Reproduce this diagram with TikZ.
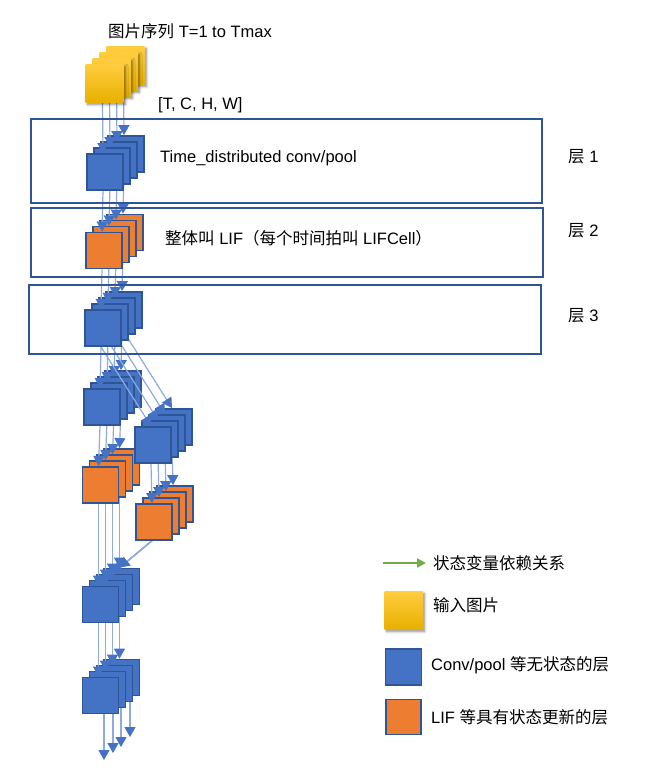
\documentclass[tikz,border=0pt]{standalone}
\usepackage{fontspec}
\setmainfont{Liberation Sans}
\newfontfamily\cjk{Noto Sans CJK SC}
\usetikzlibrary{arrows.meta,shadows.blur}
\definecolor{bfill}{HTML}{4472C4}
\definecolor{bdraw}{HTML}{2F5597}
\definecolor{ofill}{HTML}{ED7D31}
\definecolor{lineblue}{HTML}{8FAADC}
\definecolor{gline}{HTML}{70AD47}
\definecolor{ytop}{HTML}{FFCD40}
\definecolor{ybot}{HTML}{E8B000}
\tikzset{
 ghost/.style={minimum size=36pt, inner sep=0pt, line width=1.8pt},
 sq/.style={minimum size=36pt, inner sep=0pt, line width=1.8pt, draw=bdraw},
 bsq/.style={sq, fill=bfill},
 osq/.style={sq, fill=ofill},
 ysq/.style={minimum size=38pt, inner sep=0pt, top color=ytop, bottom color=ybot,
   blur shadow={shadow xshift=2pt, shadow yshift=-2.5pt, shadow opacity=45, shadow blur steps=6, shadow blur radius=2.5pt}},
 flow/.style={draw=lineblue, line width=1.2pt, -{Triangle[width=11pt,length=10pt,color=bfill]}},
 garrow/.style={draw=gline, line width=2pt, -{Triangle[width=9pt,length=9pt,color=gline]}},
 txt/.style={anchor=west, inner sep=0pt, font=\fontsize{16.5}{20}\selectfont},
 layerbox/.style={draw=bdraw, line width=2pt, inner sep=0pt},
}
% define anchors of a stack (invisible)
\newcommand\mkstack[3]{\foreach \k in {3,2,1,0}{\node[ghost] (#1\k) at ({#2+7*\k},{#3-6*\k}) {};}}
% draw visible squares of a stack, back to front
\newcommand\showstack[2]{\foreach \k in {3,2,1,0}{\node[#2] (#1\k v) at (#1\k.center) {};}}
% four connectors between stacks
\newcommand\conn[2]{\foreach \k in {0,1,2,3}{\draw[flow] ([xshift=-2pt]#1\k.south) -- ([xshift=-2pt]#2\k.north);}}
\begin{document}
\begin{tikzpicture}[x=1pt,y=-1pt]
\useasboundingbox (0,0) rectangle (672,782);
% positions (front square centres)
\mkstack{Y}{104.5}{83}
\mkstack{A}{105}{172}
\mkstack{B}{104}{250.5}
\mkstack{C}{103}{328}
\mkstack{D}{102}{407}
\mkstack{E}{153}{445}
\mkstack{F}{100.5}{485}
\mkstack{G}{154}{522}
\mkstack{H}{100.5}{604.5}
\mkstack{I}{100.5}{695.5}
% free ends of last arrows
\coordinate (e0) at (104,760);
\coordinate (e1) at (113,753);
\coordinate (e2) at (121,747);
\coordinate (e3) at (130,737);
% drawing order: bottom to top
\foreach \k in {0,1,2,3}{\draw[flow] (I\k.south -| e\k) -- (e\k);}
\showstack{I}{bsq}
\conn{H}{I}
\showstack{H}{bsq}
\conn{G}{H}
\conn{F}{H}
\showstack{G}{osq}
\showstack{F}{osq}
\conn{E}{G}
\conn{D}{F}
\showstack{E}{bsq}
\showstack{D}{bsq}
\conn{C}{D}
\conn{C}{E}
\showstack{C}{bsq}
\conn{B}{C}
\showstack{B}{osq}
\conn{A}{B}
\showstack{A}{bsq}
\conn{Y}{A}
\showstack{Y}{ysq}
% layer boxes
\node[layerbox, minimum width=511pt, minimum height=84pt] (box1) at (286.5,161) {};
\node[layerbox, minimum width=512pt, minimum height=69pt] (box2) at (287,242.5) {};
\node[layerbox, minimum width=512pt, minimum height=69pt] (box3) at (285,319.5) {};
% texts
\node[txt] (title) at (108,31) {{\cjk 图片序列} T=1 to Tmax};
\node[txt] (shape) at (158,105) {[T, C, H, W]};
\node[txt] (t1) at (160,158) {Time\_distributed conv/pool};
\node[txt] (t2) at (165,238) {{\cjk 整体叫} LIF{\cjk （每个时间拍叫} LIFCell{\cjk ）}};
\node[txt] (l1) at (568,157) {{\cjk 层} 1};
\node[txt] (l2) at (568,231) {{\cjk 层} 2};
\node[txt] (l3) at (568,316) {{\cjk 层} 3};
% legend
\coordinate (g1) at (383,563);
\coordinate (g2) at (426,563);
\draw[garrow] (g1) -- (g2);
\node[txt] (lg1) at (433,563) {\cjk 状态变量依赖关系};
\node[ysq] (ly) at (403.5,610) {};
\node[txt] (lg2) at (433,605) {\cjk 输入图片};
\node[bsq, minimum size=36pt] (lb) at (403.5,667) {};
\node[txt] (lg3) at (431,665) {Conv/pool {\cjk 等无状态的层}};
\node[osq, minimum size=35pt] (lo) at (403.5,717) {};
\node[txt] (lg4) at (431,717) {LIF {\cjk 等具有状态更新的层}};
\end{tikzpicture}
\end{document}
